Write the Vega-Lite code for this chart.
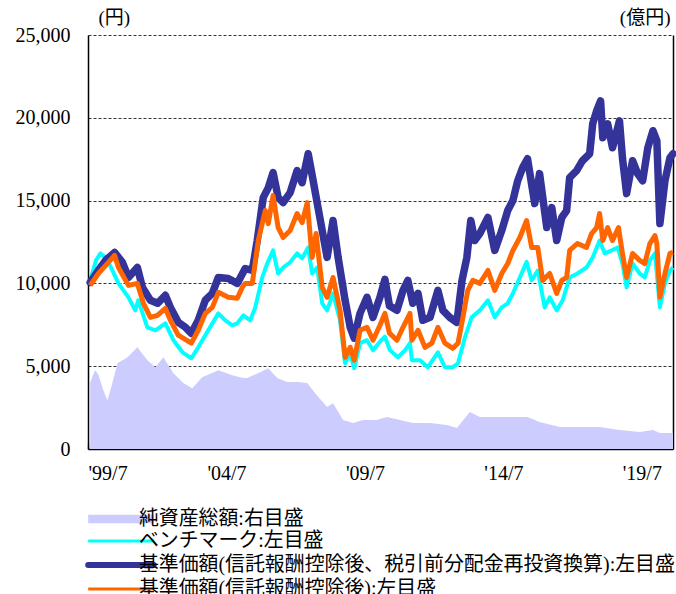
{
  "$schema": "https://vega.github.io/schema/vega-lite/v6.json",
  "width": 585,
  "height": 414,
  "autosize": {"type": "none"},
  "padding": {"left": 88, "top": 35, "right": 3, "bottom": 145},
  "title": {"text": "設定来（1999/7/30～2020/7/31）", "fontSize": 19, "font": "Liberation Serif, Noto Sans CJK JP", "fontWeight": "normal", "color": "black", "anchor": "middle", "frame": "group", "dy": -10, "dx": -19},
  "config": {
    "view": {"stroke": null},
    "font": "Liberation Serif, Noto Sans CJK JP"
  },
  "datasets": {
    "fund": [
      {"s":"A","d":"1999-07-30","v":4000},{"s":"A","d":"1999-09-30","v":4760},{"s":"A","d":"1999-11-15","v":4500},{"s":"A","d":"2000-01-15","v":3600},{"s":"A","d":"2000-03-12","v":2950},{"s":"A","d":"2000-05-01","v":3700},{"s":"A","d":"2000-07-24","v":5180},{"s":"A","d":"2000-12-03","v":5540},{"s":"A","d":"2001-04-12","v":6140},{"s":"A","d":"2001-08-22","v":5360},{"s":"A","d":"2001-12-06","v":4940},{"s":"A","d":"2002-03-21","v":5540},{"s":"A","d":"2002-08-01","v":4580},{"s":"A","d":"2002-12-10","v":3980},{"s":"A","d":"2003-04-06","v":3670},{"s":"A","d":"2003-08-15","v":4340},{"s":"A","d":"2004-03-15","v":4760},{"s":"A","d":"2004-09-15","v":4460},{"s":"A","d":"2005-02-08","v":4280},{"s":"A","d":"2005-04-01","v":4280},{"s":"A","d":"2005-09-19","v":4640},{"s":"A","d":"2006-01-03","v":4880},{"s":"A","d":"2006-05-01","v":4280},{"s":"A","d":"2006-09-10","v":4040},{"s":"A","d":"2007-01-18","v":4040},{"s":"A","d":"2007-06-01","v":3980},{"s":"A","d":"2007-09-13","v":3370},{"s":"A","d":"2008-02-18","v":2530},{"s":"A","d":"2008-05-06","v":2770},{"s":"A","d":"2008-09-15","v":1750},{"s":"A","d":"2009-01-27","v":1570},{"s":"A","d":"2009-06-06","v":1750},{"s":"A","d":"2009-12-06","v":1750},{"s":"A","d":"2010-04-18","v":1930},{"s":"A","d":"2010-10-06","v":1750},{"s":"A","d":"2011-03-24","v":1570},{"s":"A","d":"2011-11-06","v":1570},{"s":"A","d":"2012-06-15","v":1450},{"s":"A","d":"2012-10-25","v":1270},{"s":"A","d":"2013-02-09","v":1870},{"s":"A","d":"2013-04-15","v":2230},{"s":"A","d":"2013-08-24","v":1930},{"s":"A","d":"2014-04-06","v":1930},{"s":"A","d":"2014-11-03","v":1930},{"s":"A","d":"2015-05-15","v":1930},{"s":"A","d":"2015-10-21","v":1630},{"s":"A","d":"2016-07-12","v":1330},{"s":"A","d":"2017-04-01","v":1330},{"s":"A","d":"2017-12-21","v":1330},{"s":"A","d":"2018-09-09","v":1150},{"s":"A","d":"2019-06-03","v":1030},{"s":"A","d":"2019-11-24","v":1150},{"s":"A","d":"2020-02-24","v":960},{"s":"A","d":"2020-08-15","v":960},

      {"s":"B","d":"1999-07-30","v":10180},{"s":"B","d":"1999-10-15","v":11390},{"s":"B","d":"1999-12-12","v":11810},{"s":"B","d":"2000-03-01","v":11510},{"s":"B","d":"2000-05-18","v":10780},{"s":"B","d":"2000-08-06","v":10000},{"s":"B","d":"2000-12-15","v":9160},{"s":"B","d":"2001-03-15","v":8370},{"s":"B","d":"2001-04-24","v":8980},{"s":"B","d":"2001-08-22","v":7350},{"s":"B","d":"2001-12-06","v":7170},{"s":"B","d":"2002-04-16","v":7590},{"s":"B","d":"2002-08-01","v":6570},{"s":"B","d":"2002-11-28","v":5840},{"s":"B","d":"2003-03-25","v":5480},{"s":"B","d":"2003-06-24","v":6140},{"s":"B","d":"2003-11-03","v":7170},{"s":"B","d":"2004-03-15","v":8190},{"s":"B","d":"2004-06-15","v":7770},{"s":"B","d":"2004-09-15","v":7470},{"s":"B","d":"2004-11-20","v":7590},{"s":"B","d":"2005-02-08","v":8070},{"s":"B","d":"2005-05-10","v":7770},{"s":"B","d":"2005-07-15","v":8550},{"s":"B","d":"2005-10-15","v":10360},{"s":"B","d":"2005-12-20","v":11200},{"s":"B","d":"2006-03-07","v":11990},{"s":"B","d":"2006-05-13","v":10600},{"s":"B","d":"2006-07-18","v":10960},{"s":"B","d":"2006-10-18","v":11270},{"s":"B","d":"2007-01-18","v":11810},{"s":"B","d":"2007-03-25","v":11510},{"s":"B","d":"2007-06-13","v":12170},{"s":"B","d":"2007-08-04","v":10600},{"s":"B","d":"2007-10-09","v":10960},{"s":"B","d":"2007-12-15","v":8800},{"s":"B","d":"2008-02-18","v":8370},{"s":"B","d":"2008-05-06","v":9400},{"s":"B","d":"2008-08-06","v":7770},{"s":"B","d":"2008-10-12","v":5180},{"s":"B","d":"2008-12-18","v":5780},{"s":"B","d":"2009-02-09","v":4880},{"s":"B","d":"2009-04-27","v":6390},{"s":"B","d":"2009-07-28","v":6570},{"s":"B","d":"2009-10-15","v":5960},{"s":"B","d":"2010-01-15","v":6480},{"s":"B","d":"2010-03-21","v":6780},{"s":"B","d":"2010-05-27","v":5960},{"s":"B","d":"2010-09-09","v":5540},{"s":"B","d":"2010-12-10","v":5960},{"s":"B","d":"2011-02-15","v":6390},{"s":"B","d":"2011-03-12","v":5360},{"s":"B","d":"2011-06-27","v":5360},{"s":"B","d":"2011-10-09","v":4940},{"s":"B","d":"2012-02-18","v":5840},{"s":"B","d":"2012-05-21","v":4940},{"s":"B","d":"2012-09-03","v":4940},{"s":"B","d":"2012-11-09","v":5180},{"s":"B","d":"2013-02-09","v":6750},{"s":"B","d":"2013-05-09","v":7950},{"s":"B","d":"2013-08-24","v":8370},{"s":"B","d":"2013-12-09","v":8980},{"s":"B","d":"2014-03-09","v":7950},{"s":"B","d":"2014-06-09","v":8550},{"s":"B","d":"2014-08-27","v":8800},{"s":"B","d":"2014-11-03","v":9400},{"s":"B","d":"2015-02-03","v":10360},{"s":"B","d":"2015-05-03","v":11300},{"s":"B","d":"2015-07-09","v":10180},{"s":"B","d":"2015-09-27","v":10780},{"s":"B","d":"2015-12-27","v":8550},{"s":"B","d":"2016-03-03","v":9160},{"s":"B","d":"2016-06-03","v":8370},{"s":"B","d":"2016-08-21","v":8980},{"s":"B","d":"2016-11-21","v":10360},{"s":"B","d":"2017-03-03","v":10600},{"s":"B","d":"2017-07-01","v":10960},{"s":"B","d":"2017-09-21","v":11570},{"s":"B","d":"2017-12-21","v":12590},{"s":"B","d":"2018-02-27","v":11810},{"s":"B","d":"2018-05-27","v":11990},{"s":"B","d":"2018-08-15","v":12170},{"s":"B","d":"2018-10-18","v":11200},{"s":"B","d":"2018-12-12","v":9760},{"s":"B","d":"2019-03-01","v":11200},{"s":"B","d":"2019-06-03","v":10600},{"s":"B","d":"2019-08-09","v":10360},{"s":"B","d":"2019-10-15","v":11390},{"s":"B","d":"2019-12-21","v":11810},{"s":"B","d":"2020-02-24","v":8550},{"s":"B","d":"2020-05-01","v":10000},{"s":"B","d":"2020-07-06","v":10780},{"s":"B","d":"2020-08-15","v":10960},

      {"s":"N","d":"1999-07-30","v":10060},{"s":"N","d":"1999-11-15","v":10780},{"s":"N","d":"2000-02-18","v":11390},{"s":"N","d":"2000-06-15","v":11870},{"s":"N","d":"2000-09-27","v":11270},{"s":"N","d":"2000-12-15","v":10360},{"s":"N","d":"2001-04-12","v":10960},{"s":"N","d":"2001-06-18","v":9760},{"s":"N","d":"2001-10-01","v":8980},{"s":"N","d":"2002-01-03","v":8800},{"s":"N","d":"2002-04-16","v":9280},{"s":"N","d":"2002-06-22","v":8550},{"s":"N","d":"2002-10-04","v":7650},{"s":"N","d":"2003-01-06","v":7350},{"s":"N","d":"2003-03-25","v":6990},{"s":"N","d":"2003-06-24","v":7770},{"s":"N","d":"2003-09-25","v":8980},{"s":"N","d":"2003-12-27","v":9400},{"s":"N","d":"2004-03-15","v":10360},{"s":"N","d":"2004-07-24","v":10300},{"s":"N","d":"2004-11-20","v":10000},{"s":"N","d":"2005-03-04","v":10900},{"s":"N","d":"2005-06-06","v":10780},{"s":"N","d":"2005-08-10","v":12590},{"s":"N","d":"2005-10-28","v":15180},{"s":"N","d":"2006-01-03","v":15780},{"s":"N","d":"2006-03-07","v":16690},{"s":"N","d":"2006-05-13","v":15180},{"s":"N","d":"2006-07-18","v":14880},{"s":"N","d":"2006-10-18","v":15480},{"s":"N","d":"2007-01-18","v":16810},{"s":"N","d":"2007-03-25","v":16080},{"s":"N","d":"2007-06-13","v":17830},{"s":"N","d":"2007-08-18","v":16200},{"s":"N","d":"2007-10-21","v":14580},{"s":"N","d":"2008-02-18","v":11570},{"s":"N","d":"2008-05-06","v":13800},{"s":"N","d":"2008-07-12","v":11570},{"s":"N","d":"2008-10-12","v":8980},{"s":"N","d":"2008-12-18","v":7350},{"s":"N","d":"2009-02-09","v":6690},{"s":"N","d":"2009-04-27","v":8190},{"s":"N","d":"2009-07-28","v":9160},{"s":"N","d":"2009-10-15","v":7950},{"s":"N","d":"2010-01-15","v":9160},{"s":"N","d":"2010-03-21","v":10240},{"s":"N","d":"2010-05-20","v":8650},{"s":"N","d":"2010-08-27","v":8370},{"s":"N","d":"2010-11-15","v":9580},{"s":"N","d":"2011-01-18","v":10180},{"s":"N","d":"2011-03-24","v":8800},{"s":"N","d":"2011-06-01","v":9400},{"s":"N","d":"2011-08-03","v":7770},{"s":"N","d":"2011-11-06","v":7950},{"s":"N","d":"2012-02-18","v":9580},{"s":"N","d":"2012-04-24","v":8370},{"s":"N","d":"2012-07-24","v":7950},{"s":"N","d":"2012-10-25","v":7650},{"s":"N","d":"2013-01-01","v":10180},{"s":"N","d":"2013-03-06","v":11570},{"s":"N","d":"2013-04-27","v":13800},{"s":"N","d":"2013-06-18","v":12590},{"s":"N","d":"2013-08-24","v":13010},{"s":"N","d":"2013-12-09","v":13980},{"s":"N","d":"2014-03-09","v":11990},{"s":"N","d":"2014-06-09","v":13190},{"s":"N","d":"2014-08-27","v":14400},{"s":"N","d":"2014-11-03","v":15000},{"s":"N","d":"2015-01-06","v":16200},{"s":"N","d":"2015-03-12","v":16990},{"s":"N","d":"2015-05-15","v":17530},{"s":"N","d":"2015-08-18","v":14820},{"s":"N","d":"2015-10-21","v":16630},{"s":"N","d":"2016-01-24","v":13370},{"s":"N","d":"2016-03-30","v":14580},{"s":"N","d":"2016-06-03","v":12590},{"s":"N","d":"2016-08-09","v":13980},{"s":"N","d":"2016-10-12","v":14400},{"s":"N","d":"2016-11-21","v":16390},{"s":"N","d":"2017-02-21","v":16810},{"s":"N","d":"2017-05-09","v":17410},{"s":"N","d":"2017-08-12","v":17830},{"s":"N","d":"2017-09-21","v":19640},{"s":"N","d":"2017-11-12","v":20420},{"s":"N","d":"2018-01-03","v":21020},{"s":"N","d":"2018-02-01","v":18800},{"s":"N","d":"2018-04-06","v":19640},{"s":"N","d":"2018-06-09","v":18190},{"s":"N","d":"2018-09-09","v":19820},{"s":"N","d":"2018-10-18","v":17590},{"s":"N","d":"2018-12-12","v":15420},{"s":"N","d":"2019-03-01","v":17410},{"s":"N","d":"2019-05-06","v":16630},{"s":"N","d":"2019-07-12","v":16200},{"s":"N","d":"2019-09-18","v":18190},{"s":"N","d":"2019-11-24","v":19220},{"s":"N","d":"2020-01-15","v":18610},{"s":"N","d":"2020-02-24","v":13610},{"s":"N","d":"2020-05-01","v":16200},{"s":"N","d":"2020-07-06","v":17590},{"s":"N","d":"2020-08-15","v":17830},

      {"s":"O","d":"1999-07-30","v":9880},{"s":"O","d":"1999-11-15","v":10600},{"s":"O","d":"2000-03-27","v":11270},{"s":"O","d":"2000-06-15","v":11690},{"s":"O","d":"2000-08-06","v":10960},{"s":"O","d":"2000-12-15","v":9880},{"s":"O","d":"2001-04-12","v":10000},{"s":"O","d":"2001-07-01","v":8800},{"s":"O","d":"2001-10-01","v":7950},{"s":"O","d":"2002-01-03","v":8070},{"s":"O","d":"2002-04-16","v":8490},{"s":"O","d":"2002-06-22","v":7770},{"s":"O","d":"2002-10-04","v":6870},{"s":"O","d":"2003-03-25","v":6390},{"s":"O","d":"2003-06-24","v":7170},{"s":"O","d":"2003-09-25","v":8190},{"s":"O","d":"2003-12-27","v":8550},{"s":"O","d":"2004-03-15","v":9460},{"s":"O","d":"2004-07-24","v":9160},{"s":"O","d":"2004-11-20","v":9100},{"s":"O","d":"2005-01-25","v":9760},{"s":"O","d":"2005-03-04","v":10000},{"s":"O","d":"2005-06-06","v":10000},{"s":"O","d":"2005-08-24","v":12590},{"s":"O","d":"2005-11-24","v":14400},{"s":"O","d":"2006-01-03","v":13610},{"s":"O","d":"2006-03-07","v":15300},{"s":"O","d":"2006-05-13","v":13370},{"s":"O","d":"2006-07-18","v":12770},{"s":"O","d":"2006-10-18","v":13190},{"s":"O","d":"2007-01-18","v":14220},{"s":"O","d":"2007-03-25","v":13670},{"s":"O","d":"2007-06-01","v":14880},{"s":"O","d":"2007-08-04","v":11570},{"s":"O","d":"2007-09-25","v":13010},{"s":"O","d":"2007-12-15","v":9760},{"s":"O","d":"2008-02-18","v":9160},{"s":"O","d":"2008-05-06","v":10360},{"s":"O","d":"2008-08-06","v":8370},{"s":"O","d":"2008-10-12","v":5540},{"s":"O","d":"2008-12-18","v":6140},{"s":"O","d":"2009-02-09","v":5360},{"s":"O","d":"2009-04-27","v":7170},{"s":"O","d":"2009-07-28","v":7350},{"s":"O","d":"2009-10-15","v":6570},{"s":"O","d":"2010-01-15","v":7470},{"s":"O","d":"2010-03-21","v":8190},{"s":"O","d":"2010-05-20","v":7000},{"s":"O","d":"2010-08-27","v":6570},{"s":"O","d":"2010-11-15","v":7350},{"s":"O","d":"2011-02-15","v":8190},{"s":"O","d":"2011-03-12","v":6570},{"s":"O","d":"2011-06-01","v":7170},{"s":"O","d":"2011-09-01","v":6140},{"s":"O","d":"2011-12-01","v":6390},{"s":"O","d":"2012-02-18","v":7350},{"s":"O","d":"2012-05-21","v":6390},{"s":"O","d":"2012-09-03","v":6080},{"s":"O","d":"2012-11-09","v":6390},{"s":"O","d":"2013-01-13","v":7950},{"s":"O","d":"2013-03-18","v":9580},{"s":"O","d":"2013-05-24","v":10180},{"s":"O","d":"2013-08-24","v":10000},{"s":"O","d":"2013-12-09","v":10780},{"s":"O","d":"2014-03-09","v":9580},{"s":"O","d":"2014-06-09","v":10600},{"s":"O","d":"2014-08-27","v":11200},{"s":"O","d":"2014-11-03","v":11990},{"s":"O","d":"2015-02-03","v":12770},{"s":"O","d":"2015-04-06","v":13490},{"s":"O","d":"2015-05-03","v":13800},{"s":"O","d":"2015-07-09","v":12170},{"s":"O","d":"2015-09-27","v":12170},{"s":"O","d":"2015-12-01","v":10180},{"s":"O","d":"2016-03-03","v":10600},{"s":"O","d":"2016-06-03","v":9400},{"s":"O","d":"2016-08-09","v":10180},{"s":"O","d":"2016-10-12","v":10360},{"s":"O","d":"2016-11-21","v":11990},{"s":"O","d":"2017-03-03","v":12410},{"s":"O","d":"2017-07-01","v":12170},{"s":"O","d":"2017-09-06","v":13010},{"s":"O","d":"2017-11-12","v":13370},{"s":"O","d":"2017-12-21","v":14220},{"s":"O","d":"2018-02-01","v":12590},{"s":"O","d":"2018-04-06","v":13370},{"s":"O","d":"2018-06-09","v":12590},{"s":"O","d":"2018-08-27","v":13370},{"s":"O","d":"2018-10-18","v":11810},{"s":"O","d":"2018-12-12","v":10360},{"s":"O","d":"2019-03-01","v":11810},{"s":"O","d":"2019-06-03","v":11390},{"s":"O","d":"2019-08-09","v":11200},{"s":"O","d":"2019-10-15","v":12410},{"s":"O","d":"2019-12-21","v":12890},{"s":"O","d":"2020-01-15","v":12410},{"s":"O","d":"2020-02-24","v":9160},{"s":"O","d":"2020-05-01","v":10600},{"s":"O","d":"2020-07-06","v":11810},{"s":"O","d":"2020-08-15","v":11870}
    ]
  },
  "data": {"name": "fund"},
  "encoding": {
    "x": {
      "field": "d", "type": "temporal",
      "scale": {"domain": [{"year": 1999, "month": 7, "date": 1}, {"year": 2020, "month": 8, "date": 15}]},
      "axis": {
        "title": null,
        "values": [{"year": 1999, "month": 7, "date": 1}, {"year": 2004, "month": 7, "date": 1}, {"year": 2009, "month": 7, "date": 1}, {"year": 2014, "month": 7, "date": 1}, {"year": 2019, "month": 7, "date": 1}],
        "format": "'%y/%-m",
        "grid": false,
        "domainColor": "black", "domainWidth": 1.5,
        "tickColor": "#888888", "tickSize": -6, "tickWidth": 1.5,
        "labelFontSize": 20, "labelColor": "black", "labelPadding": 20,
        "labelFont": "Liberation Serif"
      }
    },
    "color": {
      "field": "s", "type": "nominal",
      "scale": {"domain": ["A", "B", "N", "O"], "range": ["#ccccff", "#00ffff", "#333399", "#ff6600"]},
      "legend": {
        "orient": "none", "legendX": 23, "legendY": 474, "direction": "vertical",
        "title": null, "padding": 0,
        "labelFontSize": 19.9, "labelColor": "black", "labelLimit": 0, "labelOffset": 8,
        "labelFont": "Liberation Serif, Noto Sans CJK JP",
        "symbolType": "stroke", "symbolSize": 4300, "rowPadding": 1,
        "labelExpr": "datum.value == 'A' ? '純資産総額:右目盛' : datum.value == 'B' ? 'ベンチマーク:左目盛' : datum.value == 'N' ? '基準価額(信託報酬控除後、税引前分配金再投資換算):左目盛' : '基準価額(信託報酬控除後):左目盛'",
        "encode": {
          "symbols": {
            "update": {
              "shape": {"signal": "datum.value == 'A' ? 'M-1,-0.13H1V0.13H-1Z' : 'stroke'"},
              "fill": {"signal": "datum.value == 'A' ? '#ccccff' : 'transparent'"},
              "stroke": {"signal": "datum.value == 'A' ? 'transparent' : scale('color', datum.value)"},
              "strokeWidth": {"signal": "datum.value == 'A' ? 0 : datum.value == 'N' ? 6 : 3"},
              "strokeCap": {"signal": "datum.value == 'N' ? 'round' : 'butt'"},
              "opacity": {"value": 1}
            }
          }
        }
      }
    }
  },
  "layer": [
    {
      "transform": [{"filter": "datum.s == 'A'"}],
      "mark": {"type": "area", "opacity": 1},
      "encoding": {
        "y": {
          "field": "v", "type": "quantitative",
          "scale": {"domain": [0, 25000], "nice": false},
          "axis": {"orient": "right", "labels": false, "ticks": false, "grid": false, "domainColor": "black", "domainWidth": 1.5,
            "title": "(億円)", "titleAngle": 0, "titleAlign": "right", "titleBaseline": "alphabetic", "titleX": -3, "titleY": -12,
            "titleFontSize": 19, "titleFontWeight": "normal", "titleColor": "black", "titleFont": "Liberation Serif, Noto Sans CJK JP"}
        }
      }
    },
    {
      "transform": [{"filter": "datum.s == 'B'"}],
      "mark": {"type": "line", "strokeWidth": 4, "strokeJoin": "round"},
      "encoding": {
        "y": {
          "field": "v", "type": "quantitative",
          "scale": {"domain": [0, 25000], "nice": false},
          "axis": {"orient": "left", "values": [0, 5000, 10000, 15000, 20000, 25000], "format": ",d", "ticks": false,
            "grid": true, "gridColor": "#333333", "gridDash": [3, 2], "gridWidth": 1,
            "domainColor": "black", "domainWidth": 1.5,
            "labelFontSize": 20, "labelColor": "black", "labelPadding": 18, "labelFont": "Liberation Serif",
            "title": "(円)", "titleAngle": 0, "titleAlign": "left", "titleBaseline": "alphabetic", "titleX": 10, "titleY": -12,
            "titleFontSize": 19, "titleFontWeight": "normal", "titleColor": "black", "titleFont": "Liberation Serif, Noto Sans CJK JP"}
        }
      }
    },
    {
      "transform": [{"filter": "datum.s == 'N'"}],
      "mark": {"type": "line", "strokeWidth": 7.5, "strokeJoin": "round", "strokeCap": "round"},
      "encoding": {"y": {"field": "v", "type": "quantitative", "scale": {"domain": [0, 25000], "nice": false}, "axis": null}}
    },
    {
      "transform": [{"filter": "datum.s == 'O'"}],
      "mark": {"type": "line", "strokeWidth": 5, "strokeJoin": "round"},
      "encoding": {"y": {"field": "v", "type": "quantitative", "scale": {"domain": [0, 25000], "nice": false}, "axis": null}}
    }
  ],
  "resolve": {"axis": {"y": "independent"}}
}
